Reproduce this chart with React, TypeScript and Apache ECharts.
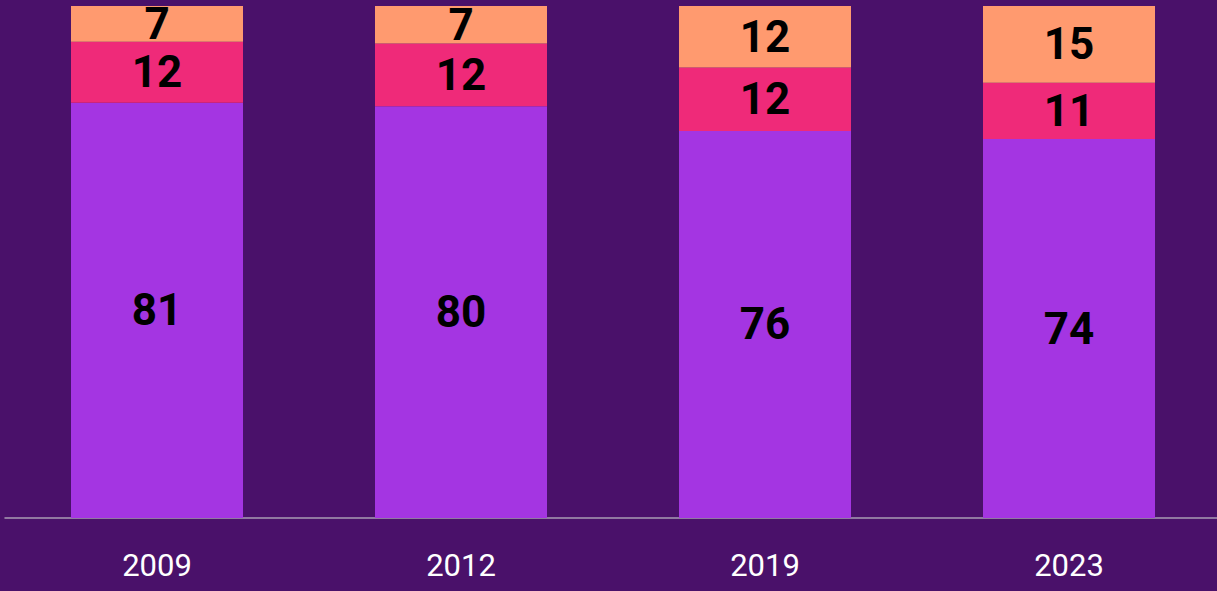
import React, { useEffect, useRef } from "react";
import * as echarts from "echarts";

const categories = ["2009", "2012", "2019", "2023"];
const seriesPurple = [81.1, 80.4, 75.6, 74.0];
const seriesPink = [11.9, 12.3, 12.4, 11.0];
const seriesOrange = [7.0, 7.3, 12.0, 15.0];

const BG = "#4a116a";
const FONT = "Roboto, sans-serif";

export default function App() {
  const ref = useRef<HTMLDivElement>(null);
  useEffect(() => {
    if (!ref.current) return;
    const chart = echarts.init(ref.current, null, { renderer: "svg" });
    const label = {
      show: true,
      position: "inside",
      color: "#000",
      fontFamily: FONT,
      fontWeight: "bold",
      fontSize: 44,
      formatter: (p: any) => String(Math.round(p.value)),
    };
    chart.setOption({
      animation: false,
      backgroundColor: BG,
      grid: { left: 5, right: 4, top: 6, bottom: 73, containLabel: false },
      xAxis: {
        type: "category",
        data: categories,
        axisLine: { show: true, lineStyle: { color: "#a99cb4", width: 1.5 } },
        axisTick: { show: false },
        axisLabel: { color: "#ffffff", fontFamily: FONT, fontSize: 31, margin: 32 },
      },
      yAxis: {
        type: "value",
        min: 0,
        max: 100,
        show: false,
        splitLine: { show: false },
      },
      series: [
        { type: "bar", stack: "a", data: seriesPurple, barWidth: 172, itemStyle: { color: "#a435e2" }, label },
        { type: "bar", stack: "a", data: seriesPink, barWidth: 172, itemStyle: { color: "#ef2a79" }, label },
        { type: "bar", stack: "a", data: seriesOrange, barWidth: 172, itemStyle: { color: "#ff9a6f" }, label },
      ],
    });
    return () => chart.dispose();
  }, []);
  return (
    <div
      style={{
        position: "absolute",
        left: 0,
        top: 0,
        width: 1217,
        height: 591,
        overflow: "hidden",
        background: BG,
      }}
    >
      <div ref={ref} style={{ width: 1225, height: 591 }} />
    </div>
  );
}
